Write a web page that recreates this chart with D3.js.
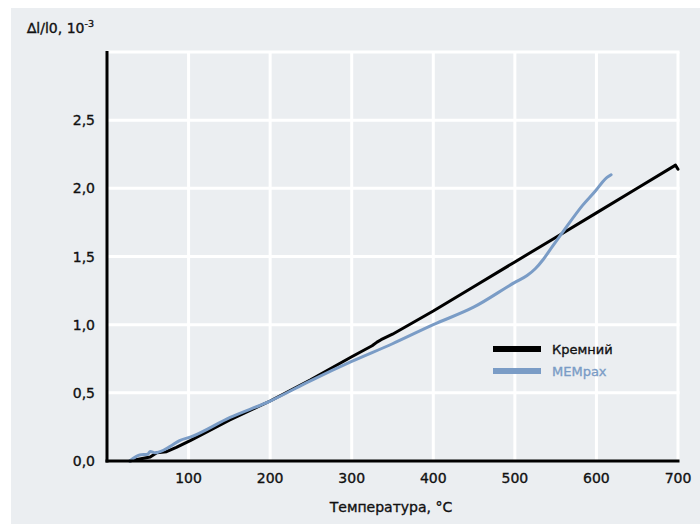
<!DOCTYPE html>
<html><head><meta charset="utf-8">
<script src="https://cdn.jsdelivr.net/npm/d3@7"></script>
<style>
body{margin:0;background:#fff;}
svg{display:block;}
text{font-family:"DejaVu Sans",sans-serif;fill:#111;stroke:#111;stroke-width:0.35px;}
</style></head>
<body>
<svg id="c" width="700" height="524"></svg>
<script>
const xTicks=[100,200,300,400,500,600,700];
const yTicks=[0,0.5,1,1.5,2,2.5];
const yTickLabels=["0,0","0,5","1,0","1,5","2,0","2,5"];
const siT=[28,40,53,61,73,85,102,150,200,249,300,325,331,336,350,400,450,500,550,600,650,697,700];
const siV=[0,0.015,0.03,0.06,0.068,0.1,0.15,0.3,0.44,0.594,0.765,0.845,0.872,0.89,0.93,1.1,1.28,1.46,1.64,1.82,2.0,2.17,2.14];
const mpT=[28,40,50,53,59,77,89,102,151,200,250,300,350,400,450,500,515,525,535,545,560,583,600,608,613,618];
const mpV=[0,0.044,0.05,0.07,0.06,0.105,0.15,0.175,0.32,0.44,0.59,0.73,0.86,1.0,1.13,1.31,1.36,1.41,1.48,1.565,1.69,1.875,1.99,2.05,2.08,2.10];
const series=[{name:"Кремний",t:siT,v:siV,color:"#000",curve:d3.curveLinear},
              {name:"MEMpax",t:mpT,v:mpV,color:"#7a9cc6",curve:d3.curveMonotoneX}];

const svg=d3.select("#c");
svg.append("rect").attr("x",11).attr("y",8).attr("width",689).attr("height",516).attr("fill","#ebeef1");
const x=d3.scaleLinear().domain([0,700]).range([107,678]);
const y=d3.scaleLinear().domain([0,3]).range([461,52]);

const g=svg.append("g");
g.selectAll(".vg").data(xTicks).enter().append("line")
 .attr("x1",d=>x(d)).attr("x2",d=>x(d)).attr("y1",y(0)).attr("y2",y(3))
 .attr("stroke","#fff").attr("stroke-width",3);
g.selectAll(".hg").data(yTicks.concat([3]).filter(d=>d>0)).enter().append("line")
 .attr("x1",x(0)).attr("x2",x(700)+1.5).attr("y1",d=>y(d)).attr("y2",d=>y(d))
 .attr("stroke","#fff").attr("stroke-width",3);

series.forEach(s=>{
  const line=d3.line().x(d=>x(d[0])).y(d=>y(d[1])).curve(s.curve);
  g.append("path").datum(s.t.map((t,i)=>[t,s.v[i]]))
   .attr("d",line).attr("fill","none").attr("stroke",s.color)
   .attr("stroke-width",3).attr("stroke-linejoin","round").attr("stroke-linecap","round");
});

g.append("line").attr("x1",x(0)).attr("x2",x(0)).attr("y1",y(3)-1).attr("y2",y(0)+1.5).attr("stroke","#000").attr("stroke-width",3);
g.append("line").attr("x1",x(0)-1.5).attr("x2",x(700)+1.5).attr("y1",y(0)).attr("y2",y(0)).attr("stroke","#000").attr("stroke-width",3);

g.selectAll(".xl").data(xTicks).enter().append("text")
 .attr("x",d=>x(d)).attr("y",483).attr("text-anchor","middle")
 .attr("font-size",14).text(d=>d);
g.selectAll(".yl").data(yTicks).enter().append("text")
 .attr("x",95).attr("y",d=>y(d)+5).attr("text-anchor","end")
 .attr("font-size",14).text((d,i)=>yTickLabels[i]);

const t=svg.append("text").attr("x",27).attr("y",33).attr("font-size",14);
t.append("tspan").text("∆l/l0, 10");
t.append("tspan").attr("font-size",9.5).attr("dy",-6).text("-3");
svg.append("text").attr("x",391).attr("y",512).attr("text-anchor","middle")
 .attr("font-size",14).text("Температура, °C");

const lg=svg.append("g");
series.forEach((s,i)=>{
  const yy=349+i*22;
  lg.append("line").attr("x1",493).attr("x2",541).attr("y1",yy).attr("y2",yy)
   .attr("stroke",s.color).attr("stroke-width",6);
  const c=i===0?"#111":s.color;
  lg.append("text").attr("x",552).attr("y",yy+5).attr("font-size",13)
   .style("fill",c).style("stroke",c).text(s.name);
});
</script>
</body></html>
